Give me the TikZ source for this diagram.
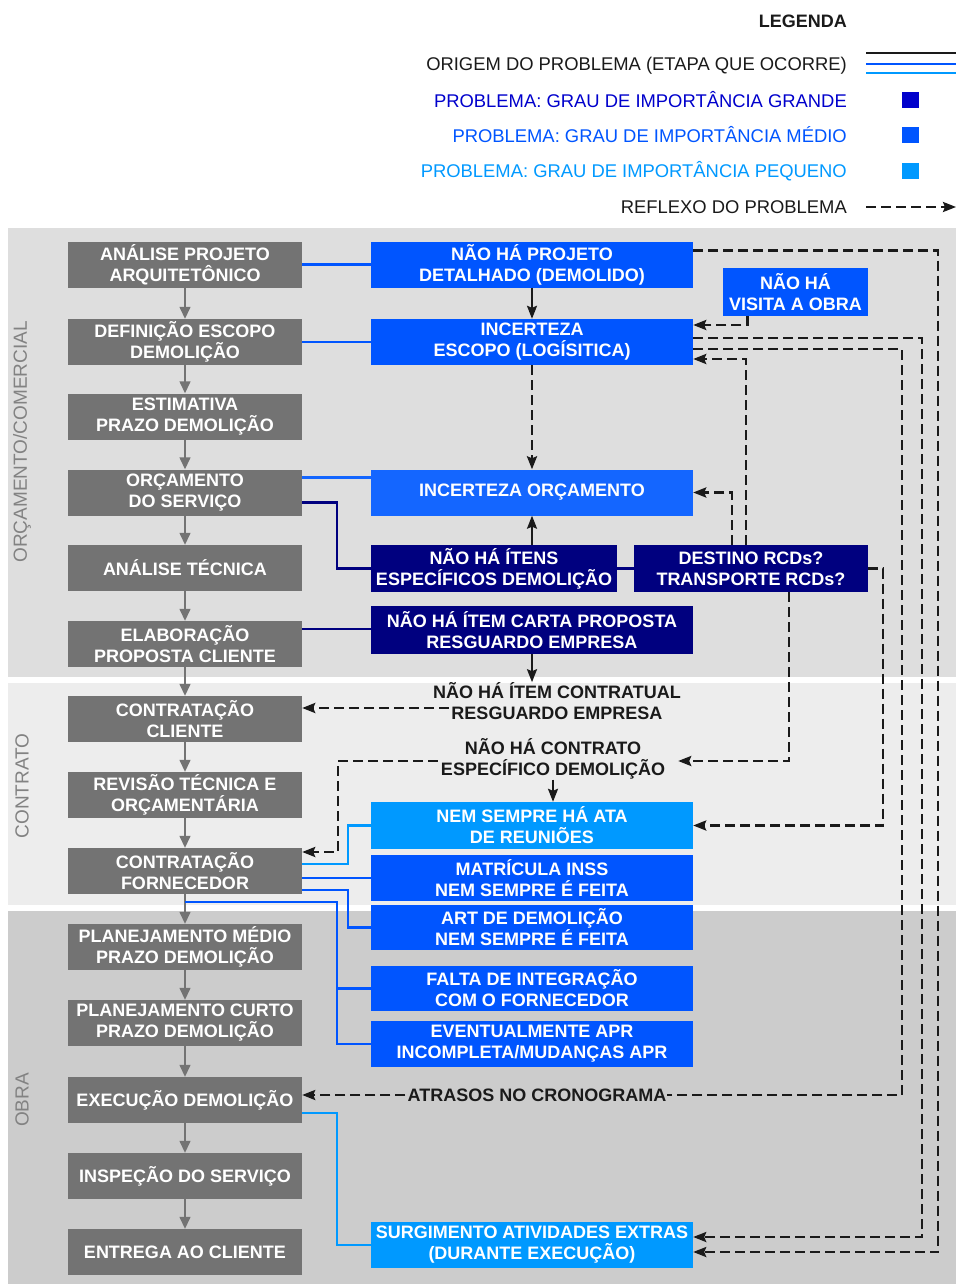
\documentclass[tikz,border=0pt]{standalone}
\usepackage{fontspec}
\setmainfont{Liberation Sans}
\usetikzlibrary{arrows.meta,calc}
\definecolor{gboxc}{HTML}{737373}
\definecolor{navyc}{HTML}{00007F}
\definecolor{medc}{HTML}{0055FF}
\definecolor{medlc}{HTML}{1466FF}
\definecolor{litec}{HTML}{0099FF}
\definecolor{bgAc}{HTML}{DEDEDE}
\definecolor{bgBc}{HTML}{EDEDED}
\definecolor{bgCc}{HTML}{CCCCCC}
\definecolor{labc}{HTML}{828282}
\definecolor{grc}{HTML}{0000CC}
\definecolor{inkc}{HTML}{1A1A1A}
\begin{document}
\begin{tikzpicture}[x=1pt,y=-1pt,
  box/.style={rectangle, inner sep=0pt, text=white, font=\fontsize{18}{21}\selectfont\bfseries, align=center},
  stage/.style={box, fill=gboxc, minimum width=234pt, minimum height=46pt},
  prob/.style={box, minimum width=322pt, minimum height=46pt},
  plain/.style={inner sep=0pt, text=inkc, font=\fontsize{18}{21}\selectfont\bfseries, align=center},
  legtxt/.style={inner sep=0pt, text=inkc, font=\fontsize{18.4}{21}\selectfont, anchor=east},
  seclab/.style={inner sep=0pt, text=labc, font=\fontsize{19}{21}\selectfont, rotate=90},
  flow/.style={draw=gboxc, line width=1.4pt, -{Triangle[length=12pt,width=11pt]}},
  refl/.style={draw=inkc, line width=2.4pt, dash pattern=on 10pt off 5pt, -{Stealth[length=13pt,width=10pt,inset=2pt]}},
  blackarr/.style={draw=inkc, line width=2pt, -{Stealth[length=13pt,width=10pt,inset=2pt]}},
  medline/.style={draw=medc, line width=2.4pt},
  medlline/.style={draw=medlc, line width=2.4pt},
  navyline/.style={draw=navyc, line width=2.4pt},
  liteline/.style={draw=litec, line width=2.4pt}
]
\useasboundingbox (0,0) rectangle (956,1284);
\fill[white] (0,0) rectangle (956,1284);
\fill[bgAc] (8,228) rectangle (956,677);
\fill[bgBc] (8,683) rectangle (956,905);
\fill[bgCc] (8,911) rectangle (956,1284);

% section labels
\node[seclab] (labA) at (22,442) {ORÇAMENTO/COMERCIAL};
\node[seclab] (labB) at (22,786) {CONTRATO};
\node[seclab] (labC) at (22,1100) {OBRA};

% legend
\node[legtxt, font=\fontsize{18}{21}\selectfont\bfseries] (leg) at (847,21) {LEGENDA};
\node[legtxt] (l1) at (847,66) {ORIGEM DO PROBLEMA (ETAPA QUE OCORRE)};
\node[legtxt, text=grc] (l2) at (847,100) {PROBLEMA: GRAU DE IMPORTÂNCIA GRANDE};
\node[legtxt, text=medc] (l3) at (847,135) {PROBLEMA: GRAU DE IMPORTÂNCIA MÉDIO};
\node[legtxt, text=litec] (l4) at (847,171) {PROBLEMA: GRAU DE IMPORTÂNCIA PEQUENO};
\node[legtxt] (l5) at (847,207) {REFLEXO DO PROBLEMA};
\draw[draw=inkc, line width=2.4pt] (866,53) -- (956,53);
\draw[medline] (866,64) -- (956,64);
\draw[liteline] (866,73) -- (956,73);
\fill[grc] (902,92) rectangle (919,108);
\fill[medc] (902,127) rectangle (919,143);
\fill[litec] (902,163) rectangle (919,179);
\coordinate (lga) at (866,207);
\coordinate (lgb) at (956,207);
\draw[refl] (lga) -- (lgb);

% stages
\node[stage] (s1) at (185,264.5) {ANÁLISE PROJETO\\ARQUITETÔNICO};
\node[stage] (s2) at (185,342) {DEFINIÇÃO ESCOPO\\DEMOLIÇÃO};
\node[stage] (s3) at (185,416.5) {ESTIMATIVA\\PRAZO DEMOLIÇÃO};
\node[stage] (s4) at (185,492.5) {ORÇAMENTO\\DO SERVIÇO};
\node[stage] (s5) at (185,568) {ANÁLISE TÉCNICA};
\node[stage] (s6) at (185,644) {ELABORAÇÃO\\PROPOSTA CLIENTE};
\node[stage] (s7) at (185,719) {CONTRATAÇÃO\\CLIENTE};
\node[stage] (s8) at (185,795) {REVISÃO TÉCNICA E\\ORÇAMENTÁRIA};
\node[stage] (s9) at (185,871) {CONTRATAÇÃO\\FORNECEDOR};
\node[stage] (s10) at (185,947) {PLANEJAMENTO MÉDIO\\PRAZO DEMOLIÇÃO};
\node[stage] (s11) at (185,1023) {PLANEJAMENTO CURTO\\PRAZO DEMOLIÇÃO};
\node[stage] (s12) at (185,1100) {EXECUÇÃO DEMOLIÇÃO};
\node[stage] (s13) at (185,1176) {INSPEÇÃO DO SERVIÇO};
\node[stage] (s14) at (185,1252) {ENTREGA AO CLIENTE};
\foreach \a/\b in {s1/s2,s2/s3,s3/s4,s4/s5,s5/s6,s6/s7,s7/s8,s8/s9,s9/s10,s10/s11,s11/s12,s12/s13,s13/s14}
  \draw[flow] (\a.south) -- (\b.north);

% problems
\node[prob, fill=medc] (projeto) at (532,264.5) {NÃO HÁ PROJETO\\DETALHADO (DEMOLIDO)};
\node[prob, fill=medc] (escopo) at (532,342) {INCERTEZA\\ESCOPO (LOGÍSITICA)};
\node[box, fill=medc, minimum width=145pt, minimum height=48pt] (visita) at (795.5,292) {NÃO HÁ\\VISITA A OBRA};
\node[prob, fill=medlc] (orc) at (532,492.5) {INCERTEZA ORÇAMENTO};
\node[box, fill=navyc, minimum width=246pt, minimum height=47pt] (itens) at (494,568.5) {NÃO HÁ ÍTENS\\ESPECÍFICOS DEMOLIÇÃO};
\node[box, fill=navyc, minimum width=234pt, minimum height=47pt] (destino) at (751,568.5) {DESTINO RCDs?\\TRANSPORTE RCDs?};
\node[prob, fill=navyc, minimum height=48pt] (carta) at (532,630) {NÃO HÁ ÍTEM CARTA PROPOSTA\\RESGUARDO EMPRESA};
\node[plain] (contratual) at (557,701) {NÃO HÁ ÍTEM CONTRATUAL\\RESGUARDO EMPRESA};
\node[plain] (contrato) at (553,759) {NÃO HÁ CONTRATO\\ESPECÍFICO DEMOLIÇÃO};
\node[prob, fill=litec, minimum height=47pt] (ata) at (532,825.5) {NEM SEMPRE HÁ ATA\\DE REUNIÕES};
\node[prob, fill=medc] (inss) at (532,878) {MATRÍCULA INSS\\NEM SEMPRE É FEITA};
\node[prob, fill=medc, minimum height=45pt] (art) at (532,927.5) {ART DE DEMOLIÇÃO\\NEM SEMPRE É FEITA};
\node[prob, fill=medc, minimum height=45pt] (falta) at (532,988.5) {FALTA DE INTEGRAÇÃO\\COM O FORNECEDOR};
\node[prob, fill=medc] (apr) at (532,1044) {EVENTUALMENTE APR\\INCOMPLETA/MUDANÇAS APR};
\node[plain] (atrasos) at (537,1095) {ATRASOS NO CRONOGRAMA};
\node[prob, fill=litec] (surg) at (532,1245) {SURGIMENTO ATIVIDADES EXTRAS\\(DURANTE EXECUÇÃO)};

% origin lines
\draw[medline] (s1.east) -- (s1.east -| projeto.west);
\draw[medline] (s2.east) -- (s2.east -| escopo.west);
\draw[medlline] ($(s4.east)+(0,-15)$) -- ($(s4.east -| orc.west)+(0,-15)$);
\draw[navyline] ($(s4.east)+(0,10)$) -- ++(35,0) |- (itens.west);
\draw[navyline] ($(s6.east)+(0,-15)$) -- ($(s6.east -| carta.west)+(0,-15)$);
\draw[navyline] (itens.east) -- (destino.west);
\draw[liteline] ($(s9.east)+(0,-7)$) -- ++(46,0) |- (ata.west);
\draw[medline] ($(s9.east)+(0,7)$) -- ($(s9.east -| inss.west)+(0,7)$);
\draw[medline] ($(s9.east)+(0,19)$) -- ++(46,0) |- (art.west);
\coordinate (jn) at ($(s9.south)+(152,8)$);
\draw[medline] ($(s9.south)+(0,8)$) -- (jn) |- (apr.west);
\draw[medline] (jn |- falta.west) -- (falta.west);
\draw[liteline] ($(s12.east)+(0,13)$) -- ++(35,0) |- (surg.west);

% solid black arrows
\draw[blackarr] (projeto.south) -- (escopo.north);
\draw[blackarr] (itens.north -| orc.south) -- (orc.south);
\draw[blackarr] (carta.south) -- (carta.south |- contratual.north);
\draw[blackarr] (contrato.south) -- (contrato.south |- ata.north);

% reflex (dashed) arrows
\draw[refl] ($(projeto.east)+(0,-14)$) -- ++(245,0) |- ($(surg.east)+(0,7)$);
\draw[refl] ($(escopo.east)+(0,-4)$) -- ++(229,0) |- ($(surg.east)+(0,-8)$);
\draw[refl, -] ($(escopo.east)+(0,7)$) -- ++(209,0) |- (atrasos.east);
\draw[refl] ($(atrasos.west)+(-2,0)$) -- (atrasos.west -| s12.east);
\draw[refl] ($(visita.south)+(-48,0)$) |- ($(escopo.east)+(0,-17)$);
\draw[refl] ($(destino.north)+(-5,0)$) |- ($(escopo.east)+(0,17)$);
\draw[refl] ($(destino.north)+(-19,0)$) |- (orc.east);
\draw[refl] (destino.east) -- ++(15,0) |- (ata.east);
\draw[refl] ($(destino.south)+(38,0)$) |- ($(contrato.east)+(13,2)$);
\draw[refl] (escopo.south) -- (orc.north);
\draw[refl] ($(contratual.west)+(16,7)$) -- ($(contratual.west -| s7.east)+(0,7)$);
\draw[refl] ($(contrato.west)+(-3,2)$) -- ++(-100,0) |- ($(s9.east)+(0,-19)$);
\end{tikzpicture}
\end{document}
